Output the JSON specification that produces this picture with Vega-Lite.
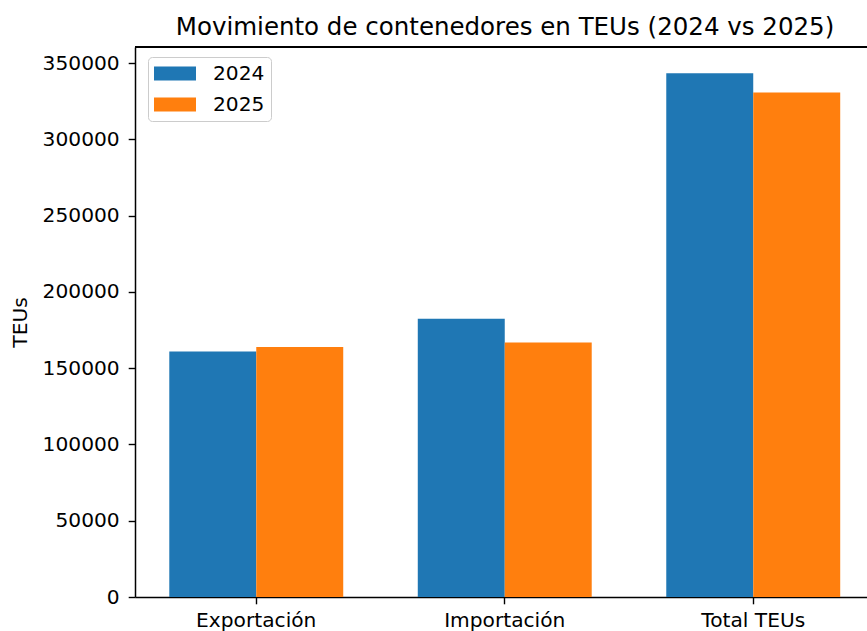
{
  "$schema": "https://vega.github.io/schema/vega-lite/v6.json",
  "width": 732,
  "height": 550,
  "autosize": {"type": "none"},
  "padding": {"left": 135, "top": 47, "right": 0, "bottom": 34},
  "background": "white",
  "config": {"view": {"stroke": null}, "font": "DejaVu Sans"},
  "title": {
    "text": "Movimiento de contenedores en TEUs (2024 vs 2025)",
    "fontSize": 24.5,
    "font": "DejaVu Sans",
    "fontWeight": "normal",
    "color": "black",
    "anchor": "middle",
    "offset": 6,
    "dx": 4
  },
  "data": {
    "values": [
      {"categoria": "Exportación", "anio": "2024", "teus": 161000},
      {"categoria": "Exportación", "anio": "2025", "teus": 163900},
      {"categoria": "Importación", "anio": "2024", "teus": 182400},
      {"categoria": "Importación", "anio": "2025", "teus": 166900},
      {"categoria": "Total TEUs", "anio": "2024", "teus": 343400},
      {"categoria": "Total TEUs", "anio": "2025", "teus": 330800}
    ]
  },
  "layer": [
    {
      "mark": {"type": "bar"},
      "encoding": {
        "x": {
          "field": "categoria",
          "type": "nominal",
          "sort": ["Exportación", "Importación", "Total TEUs"],
          "scale": {"range": [0, 739.5], "paddingInner": 0.3, "paddingOuter": 0.138},
          "axis": {
            "title": null,
            "labelAngle": 0,
            "labelFontSize": 20.2,
            "labelFont": "DejaVu Sans",
            "labelColor": "black",
            "tickColor": "black",
            "tickSize": 6.8,
            "tickWidth": 1.4,
            "domainColor": "black",
            "domainWidth": 1.5,
            "labelPadding": 7,
            "bandPosition": 0.5,
            "grid": false
          }
        },
        "xOffset": {
          "field": "anio",
          "type": "nominal",
          "scale": {"paddingInner": 0, "paddingOuter": 0}
        },
        "y": {
          "field": "teus",
          "type": "quantitative",
          "scale": {"domain": [0, 360600], "nice": false},
          "axis": {
            "title": "TEUs",
            "titleFontSize": 20.2,
            "titleFont": "DejaVu Sans",
            "titleFontWeight": "normal",
            "titleColor": "black",
            "titlePadding": 12,
            "values": [0, 50000, 100000, 150000, 200000, 250000, 300000, 350000],
            "format": "d",
            "grid": false,
            "labelFontSize": 20.2,
            "labelFont": "DejaVu Sans",
            "labelColor": "black",
            "tickColor": "black",
            "tickSize": 6.8,
            "tickWidth": 1.4,
            "domainColor": "black",
            "domainWidth": 1.5,
            "labelPadding": 9
          }
        },
        "color": {
          "field": "anio",
          "type": "nominal",
          "scale": {"range": ["#1f77b4", "#ff7f0e"]},
          "legend": {
            "title": null,
            "orient": "none",
            "legendX": 13,
            "legendY": 10,
            "symbolType": "M-1,-0.667H3V0.667H-1Z",
            "symbolSize": 441,
            "symbolStrokeWidth": 0,
            "symbolOpacity": 1,
            "labelFontSize": 20.2,
            "labelFont": "DejaVu Sans",
            "labelColor": "black",
            "labelOffset": 38,
            "padding": 6,
            "rowPadding": 10,
            "strokeColor": "#cccccc",
            "cornerRadius": 4,
            "fillColor": "white"
          }
        }
      }
    },
    {
      "mark": {"type": "rule", "color": "black", "strokeWidth": 1.5},
      "encoding": {"y": {"datum": 360600}}
    }
  ]
}
